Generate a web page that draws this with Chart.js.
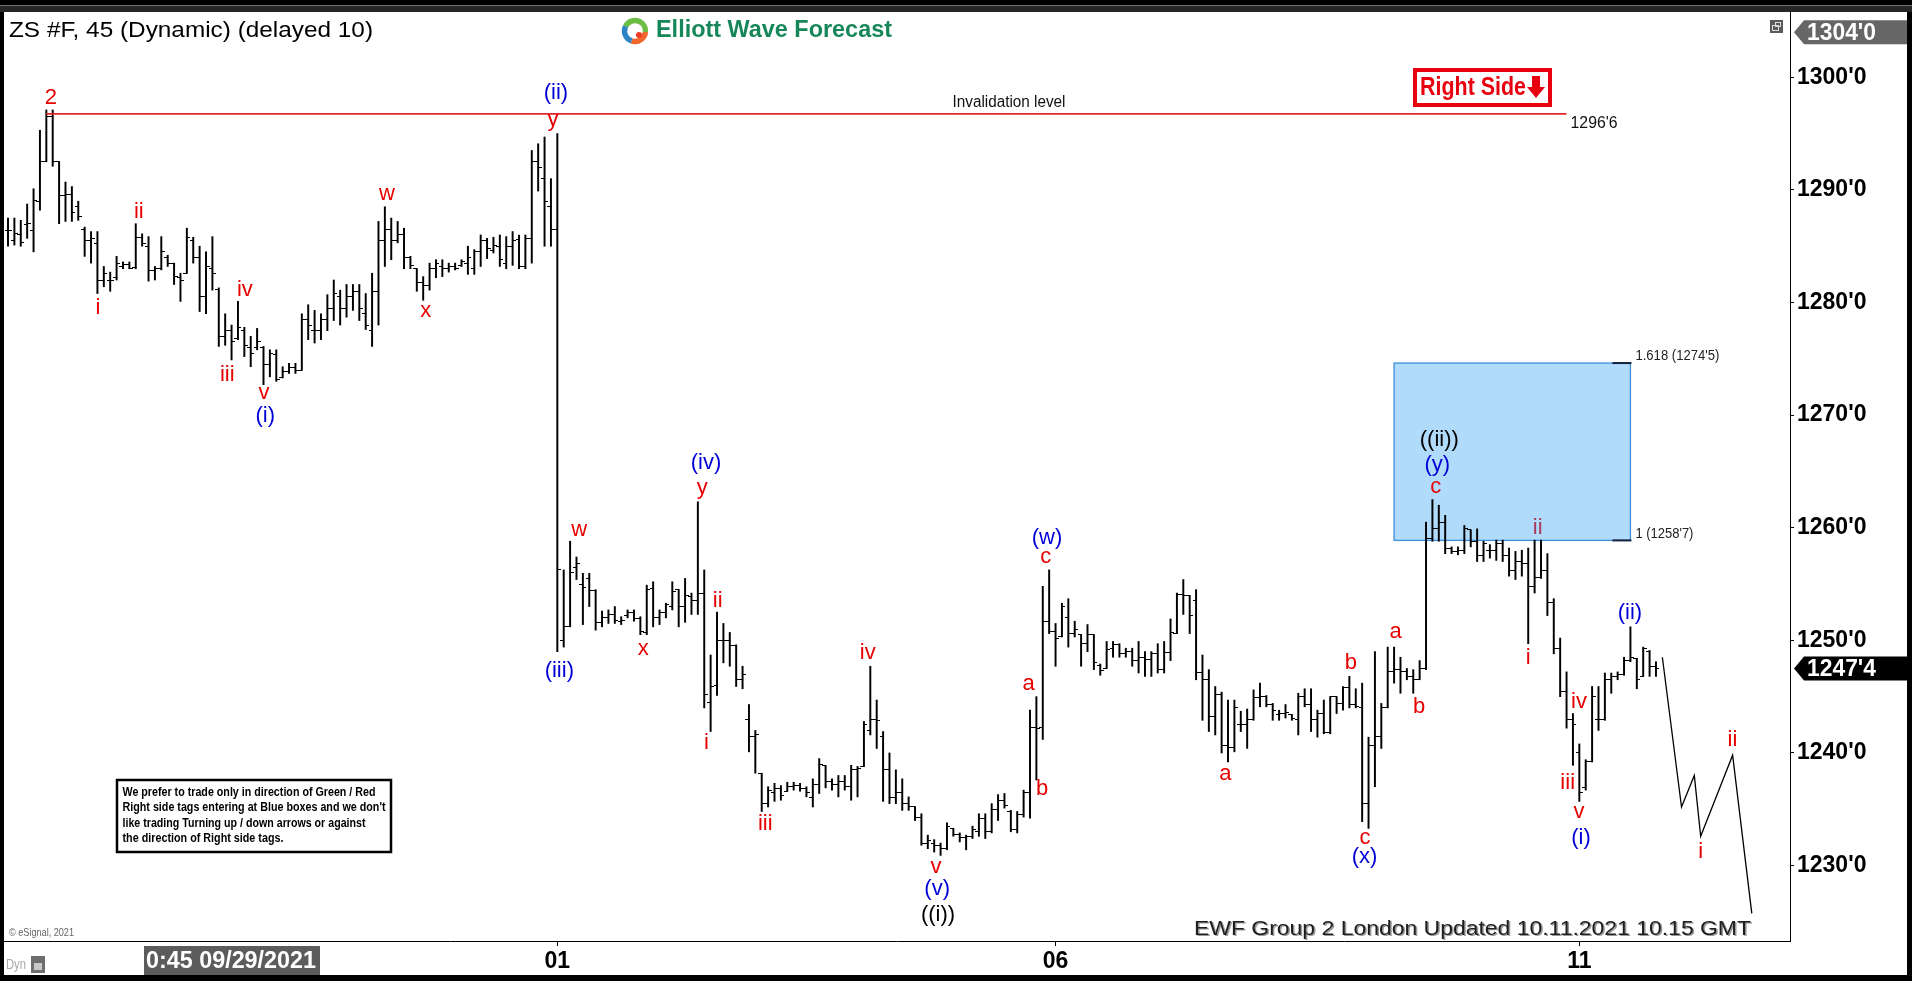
<!DOCTYPE html>
<html><head><meta charset="utf-8">
<script src="https://cdn.jsdelivr.net/npm/chart.js@4.4.1/dist/chart.umd.min.js"></script>
<style>html,body{margin:0;padding:0;background:#000;overflow:hidden}#wrap{position:relative;width:1912px;height:981px}</style>
</head><body><div id="wrap"><canvas id="c"></canvas></div>
<script>
// ---------------- DATA ----------------
const opens = [
1286.4,1285.5,1286.0,1286.9,1286.4,1289.0,1292.5,1296.5,1292.5,1289.5,
1289.6,1288.5,1286.5,1285.5,1285.2,1282.0,1282.0,1282.2,1283.2,1283.4,
1283.1,1285.8,1285.0,1282.8,1283.0,1284.0,1283.5,1282.2,1282.6,1285.5,
1284.0,1280.5,1283.0,1281.2,1277.0,1277.5,1276.8,1277.5,1276.0,1276.0,
1276.0,1274.5,1275.4,1273.3,1273.9,1274.2,1274.0,1278.5,1277.5,1277.5,
1278.5,1279.5,1280.5,1279.5,1280.5,1281.0,1279.0,1277.5,1281.0,1285.5,
1286.5,1285.5,1286.0,1284.0,1283.0,1281.8,1281.5,1283.0,1283.2,1283.0,
1283.2,1283.3,1283.5,1283.0,1284.5,1285.5,1284.6,1285.0,1283.5,1285.0,
1285.6,1283.2,1285.7,1292.5,1291.0,1288.5,1286.5,1250.0,1251.2,1256.5,
1255.0,1255.5,1254.4,1251.6,1252.0,1252.3,1251.7,1252.2,1252.5,1251.9,
1250.7,1254.6,1252.0,1252.5,1253.0,1254.5,1253.0,1253.9,1253.5,1254.2,
1244.5,1246.0,1250.0,1250.0,1249.5,1246.5,1243.0,1241.5,1238.2,1235.5,
1236.5,1236.8,1236.6,1237.0,1237.1,1236.8,1236.0,1237.2,1238.9,1237.5,
1237.2,1237.5,1237.0,1238.5,1238.8,1242.0,1243.0,1241.5,1238.5,1236.0,
1236.5,1235.5,1235.2,1234.3,1232.0,1232.0,1231.8,1231.5,1233.3,1232.8,
1232.5,1232.6,1233.0,1234.2,1233.0,1235.0,1235.8,1234.8,1233.2,1234.5,
1236.5,1242.3,1242.3,1251.7,1250.8,1250.3,1252.0,1250.6,1250.5,1249.7,
1250.5,1247.8,1247.5,1249.3,1249.6,1248.8,1249.0,1248.2,1248.5,1248.3,
1248.8,1247.4,1248.9,1250.6,1254.1,1254.0,1253.5,1247.1,1246.5,1243.2,
1245.2,1240.7,1240.5,1242.5,1242.5,1243.0,1244.9,1245.0,1244.3,1243.4,
1243.5,1243.4,1243.0,1245.0,1244.3,1243.0,1243.5,1241.8,1245.0,1244.4,
1245.8,1244.3,1244.0,1235.5,1240.7,1241.5,1244.0,1247.2,1247.4,1247.2,
1246.8,1246.5,1247.5,1259.0,1259.9,1260.5,1258.2,1257.9,1258.0,1259.8,
1258.8,1257.5,1258.0,1258.0,1258.6,1257.5,1256.2,1257.0,1256.8,1254.8,
1255.6,1256.2,1253.4,1249.3,1245.5,1243.0,1240.0,1236.9,1239.2,1243.0,
1243.0,1246.5,1246.8,1247.0,1248.2,1248.4,1246.8,1249.0,1247.7];
const highs = [
1287.5,1287.5,1287.3,1288.75,1290.1,1295.3,1297.1,1297.1,1292.5,1290.7,
1290.3,1289.0,1286.7,1286.3,1286.3,1283.2,1282.7,1284.1,1283.6,1283.6,
1287.0,1286.1,1285.85,1283.2,1285.85,1284.2,1283.5,1282.6,1286.6,1285.8,
1285.0,1284.5,1285.85,1281.3,1279.0,1278.0,1280.1,1277.8,1277.0,1277.7,
1276.1,1275.8,1275.8,1274.3,1274.6,1274.6,1279.0,1279.8,1279.3,1279.0,
1280.7,1282.0,1281.1,1281.6,1281.6,1281.6,1280.8,1282.6,1287.2,1288.5,
1287.5,1287.2,1286.6,1284.1,1283.0,1282.3,1283.5,1283.8,1283.8,1283.5,
1283.5,1283.8,1285.0,1284.7,1286.0,1285.7,1285.8,1286.0,1285.85,1286.3,
1286.0,1286.0,1293.5,1294.1,1294.7,1291.0,1295.0,1256.25,1258.8,1257.4,
1255.95,1255.95,1254.5,1252.6,1252.7,1253.0,1252.1,1252.7,1252.7,1252.1,
1254.9,1255.2,1252.7,1253.3,1255.2,1254.5,1255.5,1254.2,1262.3,1256.25,
1248.7,1252.5,1251.5,1250.7,1249.6,1247.7,1244.3,1242.0,1238.2,1237.0,
1237.3,1237.1,1237.4,1237.4,1237.3,1237.0,1237.7,1239.5,1238.9,1237.7,
1238.0,1238.0,1238.9,1238.8,1242.8,1247.7,1244.7,1241.9,1240.0,1238.5,
1237.7,1236.1,1235.2,1234.6,1232.7,1232.3,1232.0,1233.8,1233.3,1232.9,
1232.7,1233.5,1234.6,1234.6,1235.5,1236.3,1236.4,1234.9,1234.8,1236.7,
1243.8,1245.0,1254.8,1256.25,1251.5,1253.3,1253.7,1251.7,1250.5,1251.4,
1250.5,1247.9,1249.9,1249.9,1249.7,1249.3,1249.3,1249.9,1249.0,1249.0,
1249.7,1249.9,1251.9,1254.2,1255.4,1254.0,1254.5,1248.7,1247.4,1245.9,
1245.4,1244.7,1244.7,1243.7,1243.9,1245.6,1246.2,1245.1,1244.4,1243.8,
1244.3,1243.4,1245.3,1245.7,1245.7,1243.8,1244.7,1245.0,1245.0,1245.9,
1246.8,1245.7,1246.2,1241.4,1249.0,1244.4,1249.4,1249.4,1248.5,1247.5,
1247.4,1248.2,1260.5,1262.5,1262.0,1261.1,1258.3,1258.3,1260.2,1259.8,
1259.9,1258.8,1258.5,1258.9,1258.9,1258.2,1257.9,1258.0,1258.2,1258.9,
1258.9,1257.7,1253.7,1250.2,1247.2,1243.5,1240.8,1239.4,1245.9,1245.9,
1247.1,1247.1,1247.2,1248.5,1251.2,1248.4,1249.4,1249.1,1248.1];
const lows = [
1285.0,1285.1,1285.0,1285.7,1284.5,1288.2,1292.5,1292.1,1287.0,1287.2,
1287.2,1287.3,1284.1,1283.5,1280.8,1281.4,1281.0,1282.0,1283.0,1283.0,
1283.0,1285.0,1281.9,1282.0,1282.9,1283.2,1281.6,1280.1,1282.6,1283.5,
1279.2,1279.0,1281.1,1276.1,1276.2,1274.9,1276.7,1275.2,1274.3,1275.8,
1272.7,1273.4,1273.0,1273.3,1273.7,1273.7,1274.0,1276.7,1276.4,1276.7,
1277.5,1278.4,1278.0,1278.7,1279.3,1278.4,1277.6,1276.1,1278.0,1283.2,
1283.8,1285.3,1283.0,1283.0,1281.0,1280.2,1281.1,1282.2,1282.3,1282.7,
1282.9,1283.2,1282.5,1282.5,1283.2,1283.9,1284.4,1283.2,1283.0,1283.3,
1283.0,1283.0,1283.5,1289.9,1285.0,1285.0,1249.0,1249.4,1251.2,1255.4,
1251.4,1253.0,1250.9,1251.2,1251.5,1251.5,1251.4,1252.0,1251.7,1250.5,
1250.5,1251.2,1251.4,1252.0,1252.7,1251.2,1251.6,1252.3,1252.3,1244.0,
1241.9,1245.1,1248.0,1247.7,1245.9,1245.7,1240.1,1238.2,1234.8,1235.2,
1235.7,1235.8,1236.6,1236.7,1236.6,1236.1,1235.2,1236.4,1236.9,1236.7,
1236.1,1236.7,1235.8,1236.1,1238.8,1241.6,1240.4,1235.7,1235.5,1235.5,
1234.9,1234.9,1234.0,1231.8,1231.5,1231.2,1230.9,1231.4,1232.6,1232.1,
1231.4,1232.4,1232.6,1232.4,1232.9,1234.0,1235.1,1233.0,1232.9,1234.3,
1234.2,1237.6,1241.2,1250.6,1247.7,1250.3,1249.4,1250.3,1247.7,1249.0,
1247.4,1246.9,1247.5,1248.5,1248.5,1248.5,1247.7,1247.1,1246.8,1246.8,
1247.1,1247.1,1248.2,1250.6,1252.3,1250.6,1246.5,1242.9,1241.9,1241.6,
1240.0,1239.2,1240.1,1241.9,1240.4,1242.9,1244.1,1244.1,1242.9,1242.9,
1243.1,1242.9,1241.6,1244.1,1241.9,1241.4,1241.7,1241.7,1243.5,1243.8,
1244.0,1244.0,1233.9,1233.3,1237.0,1240.4,1244.0,1246.2,1245.3,1246.5,
1245.3,1246.5,1247.4,1258.8,1258.8,1257.7,1257.7,1257.6,1257.7,1258.3,
1257.0,1257.0,1257.3,1257.1,1257.0,1255.7,1255.4,1255.7,1249.7,1254.2,
1255.5,1252.2,1248.8,1245.0,1242.2,1238.9,1235.7,1236.7,1239.2,1242.0,
1242.9,1245.3,1246.5,1246.9,1248.1,1245.7,1246.8,1246.8,1246.8];
const closes = [
1286.4,1286.1,1285.3,1287.0,1289.1,1292.5,1296.5,1292.5,1289.5,1289.6,
1288.0,1287.6,1285.5,1285.7,1282.0,1282.6,1282.0,1283.5,1283.4,1283.0,
1285.8,1285.2,1282.8,1283.0,1284.5,1283.5,1282.3,1282.0,1285.8,1284.0,
1280.5,1283.2,1282.6,1277.0,1277.5,1276.5,1277.8,1276.2,1275.5,1276.5,
1274.5,1275.5,1273.2,1273.9,1274.2,1274.0,1278.5,1278.0,1277.5,1278.5,
1279.5,1280.8,1279.5,1280.5,1281.0,1279.5,1278.0,1281.0,1285.5,1286.5,
1285.5,1286.0,1284.0,1283.3,1281.8,1281.5,1283.0,1283.5,1283.0,1283.2,
1283.0,1283.6,1284.0,1284.5,1285.5,1284.8,1285.1,1283.8,1285.0,1285.5,
1283.2,1285.7,1292.5,1292.0,1289.0,1286.5,1256.25,1251.2,1256.0,1256.8,
1254.7,1254.4,1251.6,1252.0,1252.3,1251.8,1251.8,1252.5,1251.9,1250.8,
1254.5,1252.0,1252.5,1253.2,1254.3,1253.0,1254.0,1253.5,1254.2,1245.2,
1245.9,1250.0,1250.0,1249.5,1246.5,1247.0,1241.5,1241.6,1235.5,1236.7,
1236.8,1236.2,1237.0,1237.1,1236.8,1236.5,1237.2,1239.0,1237.5,1237.2,
1237.5,1237.0,1238.5,1238.6,1242.5,1243.0,1242.9,1238.5,1236.0,1236.5,
1235.5,1235.2,1234.3,1232.0,1232.2,1231.8,1231.5,1233.5,1232.8,1232.5,
1232.6,1233.2,1234.2,1233.0,1235.0,1235.8,1235.3,1233.2,1234.5,1236.5,
1242.3,1242.2,1251.7,1250.8,1250.2,1253.0,1250.6,1251.0,1249.7,1250.5,
1248.0,1247.3,1249.2,1249.6,1248.8,1249.0,1248.2,1248.5,1248.3,1248.8,
1247.4,1248.9,1250.7,1254.1,1254.0,1252.2,1247.1,1246.5,1243.2,1245.2,
1240.7,1240.5,1244.0,1242.5,1243.0,1244.9,1245.0,1244.3,1243.8,1243.5,
1243.6,1243.1,1245.0,1244.3,1243.0,1243.5,1241.8,1245.0,1244.4,1245.8,
1244.3,1244.1,1235.5,1240.7,1241.5,1244.0,1247.2,1247.4,1247.2,1246.8,
1246.5,1247.5,1259.0,1259.9,1260.5,1258.2,1257.9,1258.0,1259.9,1258.8,
1257.5,1258.6,1258.0,1258.6,1257.5,1256.2,1257.0,1256.8,1254.8,1255.6,
1256.2,1253.4,1249.3,1245.5,1243.0,1242.5,1236.5,1239.2,1245.0,1243.0,
1246.5,1246.8,1247.0,1248.2,1248.5,1246.5,1249.3,1247.7,1247.5];

// x-axis day labels (bar index where each day label sits)
const xTickIndex = [86, 164, 246];
const xTickText  = ['01', '06', '11'];
// price axis ticks
const yTickValues = [1230, 1240, 1250, 1260, 1270, 1280, 1290, 1300];
const scaleTopPrice = 1304;

// invalidation level
const invalidationPrice = 1296.75;
const invalidationFromBar = 6;
const invalidationToBar = 244;

// blue box (Fibonacci extension area)
const fibFromBar = 217, fibToBar = 254;
const fibLow = 1258.875, fibHigh = 1274.625;
const fibLowRatio = '1', fibHighRatio = '1.618';

// projected path
const projBars   = [259, 262, 264, 265, 270, 273];
const projPrices = [1248.5, 1235.2, 1238.0, 1232.6, 1239.8, 1225.75];

// Elliott wave labels: text, anchor bar, anchor price, degree
const waveText = ['2','i','ii','iii','iv','v','(i)','w','x','(ii)','y','(iii)','w','x','(iv)','y','ii','i','iii','iv','v','(v)','((i))','a','b','c','(w)','a','b','c','(x)','a','b','c','(y)','((ii))','ii','i','iv','iii','v','(i)','(ii)','i','ii'];
const waveBar = [6.73,14.09,20.48,34.33,37.09,40.08,40.28,59.33,65.39,85.79,85.32,86.31,89.44,99.46,109.28,108.70,111.11,109.35,118.56,134.59,145.28,145.46,145.60,159.78,161.88,162.46,162.66,190.58,210.25,212.45,212.37,217.25,220.90,223.51,223.76,224.08,239.48,238.01,245.95,244.18,245.93,246.26,253.93,264.99,269.97];
const wavePrice = [1298.14,1279.51,1288.07,1273.56,1281.11,1271.94,1269.92,1289.61,1279.27,1298.58,1296.21,1247.30,1259.80,1249.20,1265.72,1263.50,1253.52,1240.85,1233.66,1248.90,1229.84,1227.89,1225.61,1246.12,1236.77,1257.37,1259.06,1238.13,1247.96,1232.42,1230.73,1250.77,1244.05,1263.59,1265.57,1267.79,1259.95,1248.40,1244.55,1237.30,1234.78,1232.42,1252.40,1231.23,1241.15];
const waveDegree = ['sm','sm','sm','sm','sm','sm','mt','sm','sm','mt','sm','mt','sm','sm','mt','sm','sm','sm','sm','sm','sm','mt','mn','sm','sm','sm','mt','sm','sm','sm','mt','sm','sm','sm','mt','mn','sm2','sm','sm','sm','sm','mt','mt','sm','sm'];

// ---------------- STYLE / LAYOUT ----------------
const FONT = '"Liberation Sans", Arial, sans-serif';
const degreeColor = {sm:'#e60000', sm2:'#a8395a', mt:'#0000d6', mn:'#000000'};
const X0PX = 8, DXPX = 6.3875, AREA_L = 4, AREA_R = 1790;
const xMin = (AREA_L - X0PX) / DXPX, xMax = (AREA_R - X0PX) / DXPX;
const yMin = 1223.3, yMax = 1305.8;

function fmt(v){ let n = Math.floor(v + 1e-9); let e = Math.round((v - n) * 8); if (e === 8) { n += 1; e = 0; } return n + "'" + e; }

function drawText(ctx, s, x, y, o){
  ctx.save(); ctx.font = o.font; ctx.fillStyle = o.color || '#000'; ctx.textBaseline = o.baseline || 'middle'; ctx.textAlign = 'left';
  const m = ctx.measureText(s).width; const sx = o.width ? o.width / m : 1; const w = m * sx;
  const x0 = o.align === 'center' ? x - w / 2 : (o.align === 'right' ? x - w : x);
  ctx.translate(x0, y); ctx.scale(sx, 1); ctx.fillText(s, 0, 0); ctx.restore();
}
function tickImg(side){
  const c = document.createElement('canvas'); c.width = 7; c.height = 1;
  const g = c.getContext('2d'); g.fillStyle = '#000';
  if (side < 0) g.fillRect(0, 0, 4, 1); else g.fillRect(3, 0, 4, 1);
  return c;
}
function priceTag(ctx, y, s, bg){
  ctx.save(); ctx.fillStyle = bg; ctx.beginPath();
  ctx.moveTo(1794, y); ctx.lineTo(1804, y - 12); ctx.lineTo(1907, y - 12); ctx.lineTo(1907, y + 12); ctx.lineTo(1804, y + 12);
  ctx.closePath(); ctx.fill(); ctx.restore();
  drawText(ctx, s, 1807, y + 1, {font: 'bold 23px ' + FONT, color: '#fff', width: 69});
}

const bgPlugin = {
  id: 'bg',
  beforeDraw(chart){
    const ctx = chart.ctx; ctx.save();
    ctx.fillStyle = '#000'; ctx.fillRect(0, 0, 1912, 981);
    ctx.fillStyle = '#262626'; ctx.fillRect(0, 6, 1912, 6);
    ctx.fillStyle = '#707070'; ctx.fillRect(0, 5, 1912, 1);
    ctx.fillStyle = '#fff'; ctx.fillRect(4, 12, 1903, 963);
    ctx.restore();
  },
  beforeDatasetsDraw(chart){
    const ctx = chart.ctx, xs = chart.scales.x, ys = chart.scales.y;
    const x1 = xs.getPixelForValue(fibFromBar), x2 = xs.getPixelForValue(fibToBar);
    const y1 = ys.getPixelForValue(fibHigh), y2 = ys.getPixelForValue(fibLow);
    ctx.save();
    ctx.fillStyle = '#b1dbfb'; ctx.fillRect(x1, y1, x2 - x1, y2 - y1);
    ctx.strokeStyle = '#3c8fdc'; ctx.lineWidth = 1.3; ctx.strokeRect(x1, y1, x2 - x1, y2 - y1);
    ctx.fillStyle = '#14213d';
    ctx.fillRect(x2 - 18, y1 - 1, 19, 2); ctx.fillRect(x2 - 18, y2 - 1, 19, 2);
    ctx.restore();
    drawText(ctx, fibHighRatio + ' (' + fmt(fibHigh) + ')', x2 + 5, y1 - 7, {font: '14px ' + FONT, color: '#222', width: 84});
    drawText(ctx, fibLowRatio + ' (' + fmt(fibLow) + ')', x2 + 5, y2 - 6, {font: '14px ' + FONT, color: '#222', width: 58});
  },
  afterDatasetsDraw(chart){
    const ctx = chart.ctx, xs = chart.scales.x, ys = chart.scales.y;
    ctx.save();
    ctx.font = '22px ' + FONT; ctx.textAlign = 'center'; ctx.textBaseline = 'middle';
    for (let k = 0; k < waveText.length; k++) {
      ctx.fillStyle = degreeColor[waveDegree[k]];
      ctx.fillText(waveText[k], xs.getPixelForValue(waveBar[k]), ys.getPixelForValue(wavePrice[k]));
    }
    ctx.restore();
    // invalidation texts
    const yi = ys.getPixelForValue(invalidationPrice);
    drawText(ctx, 'Invalidation level', 1009, yi - 11, {font: '16px ' + FONT, color: '#111', width: 113, align: 'center'});
    drawText(ctx, fmt(invalidationPrice), xs.getPixelForValue(invalidationToBar) + 4, yi + 10, {font: '16px ' + FONT, color: '#111', width: 47});
  },
  afterDraw(chart){
    const ctx = chart.ctx, ys = chart.scales.y;
    // title
    drawText(ctx, 'ZS #F, 45 (Dynamic) (delayed 10)', 9, 31, {font: '22px ' + FONT, color: '#000', width: 364});
    // logo
    ctx.save(); ctx.lineWidth = 5.5; const cx = 635, cy = 31, r = 10.5;
    ctx.strokeStyle = '#6cbd45'; ctx.beginPath(); ctx.arc(cx, cy, r, -2.7, 0.1); ctx.stroke();
    ctx.strokeStyle = '#f1662a'; ctx.beginPath(); ctx.arc(cx, cy, r, 0.1, 1.9); ctx.stroke();
    ctx.strokeStyle = '#2d83c4'; ctx.beginPath(); ctx.arc(cx, cy, r, 1.9, 3.6); ctx.stroke();
    ctx.fillStyle = '#ee3b24'; ctx.beginPath(); ctx.arc(cx + 4, cy + 4, 3, 0, 6.3); ctx.fill();
    ctx.restore();
    drawText(ctx, 'Elliott Wave Forecast', 656, 31, {font: 'bold 23px ' + FONT, color: '#17875a', width: 236});
    // right side tag
    ctx.save(); ctx.strokeStyle = '#e8000f'; ctx.lineWidth = 4; ctx.fillStyle = '#fff';
    ctx.fillRect(1415, 70, 135, 35); ctx.strokeRect(1415, 70, 135, 35);
    ctx.fillStyle = '#e8000f'; ctx.fillRect(1532, 76, 8, 12);
    ctx.beginPath(); ctx.moveTo(1527, 87); ctx.lineTo(1545, 87); ctx.lineTo(1536, 98); ctx.closePath(); ctx.fill();
    ctx.restore();
    drawText(ctx, 'Right Side', 1420, 88, {font: 'bold 26px ' + FONT, color: '#e8000f', width: 106});
    // small window icon
    ctx.save(); ctx.fillStyle = '#5a5a5a'; ctx.fillRect(1770, 20, 13, 13);
    ctx.strokeStyle = '#ddd'; ctx.lineWidth = 1; ctx.strokeRect(1772.5, 25.5, 6, 5); ctx.strokeRect(1775.5, 22.5, 5, 4); ctx.restore();
    // price tags
    priceTag(ctx, ys.getPixelForValue(scaleTopPrice), fmt(scaleTopPrice), '#666');
    const last = closes[closes.length - 1];
    priceTag(ctx, ys.getPixelForValue(last), fmt(last), '#000');
    // info box
    ctx.save(); ctx.fillStyle = '#fff'; ctx.fillRect(117, 780, 274, 72);
    ctx.strokeStyle = '#000'; ctx.lineWidth = 2.5; ctx.strokeRect(117, 780, 274, 72); ctx.restore();
    const info = ['We prefer to trade only in direction of Green / Red', "Right side tags entering at Blue boxes and we don't", 'like trading Turning up / down arrows or against', 'the direction of Right side tags.'];
    const infoW = [253, 263, 243, 161], infoY = [793, 808, 823.5, 838.5];
    for (let k = 0; k < 4; k++) drawText(ctx, info[k], 122.5, infoY[k], {font: 'bold 12.5px ' + FONT, color: '#000', width: infoW[k]});
    // footer
    const foot = 'EWF Group 2 London Updated 10.11.2021 10.15 GMT';
    drawText(ctx, foot, 1195.5, 930.5, {font: '21px ' + FONT, color: '#9a9a9a', width: 557});
    drawText(ctx, foot, 1194, 929, {font: '21px ' + FONT, color: '#1e1e1e', width: 557});
    drawText(ctx, '\u00a9 eSignal, 2021', 9, 933, {font: '11px ' + FONT, color: '#666', width: 65});
    // date box
    ctx.save(); ctx.fillStyle = '#5c5c5c'; ctx.fillRect(144, 946, 176, 29); ctx.restore();
    drawText(ctx, '0:45 09/29/2021', 146, 961.5, {font: 'bold 23px ' + FONT, color: '#fff', width: 170});
    // Dyn
    drawText(ctx, 'Dyn', 6, 965, {font: '15px ' + FONT, color: '#a8a8a8', width: 20});
    ctx.save(); ctx.fillStyle = '#6e6e6e'; ctx.fillRect(31, 956, 14, 17); ctx.fillStyle = '#c8c8c8'; ctx.fillRect(34, 963, 8, 7); ctx.restore();
  }
};

const idx = opens.map((_, i) => i);
const chart = new Chart(document.getElementById('c'), {
  type: 'bar',
  data: {
    datasets: [
      { type: 'line', label: 'projection', data: projBars.map((b, k) => ({x: b, y: projPrices[k]})), borderColor: '#000', borderWidth: 1.3, pointRadius: 0, tension: 0, fill: false },
      { type: 'line', label: 'invalidation', data: [{x: invalidationFromBar, y: invalidationPrice}, {x: invalidationToBar, y: invalidationPrice}], borderColor: '#e3262b', borderWidth: 1.6, pointRadius: 0, fill: false },
      { type: 'line', label: 'open', data: idx.map(i => ({x: i, y: opens[i]})), showLine: false, pointStyle: tickImg(-1), pointRadius: 3, pointHoverRadius: 3 },
      { type: 'line', label: 'close', data: idx.map(i => ({x: i, y: closes[i]})), showLine: false, pointStyle: tickImg(1), pointRadius: 3, pointHoverRadius: 3 },
      { type: 'bar', label: 'range', data: idx.map(i => ({x: i, y: [lows[i], highs[i]]})), backgroundColor: '#000', borderWidth: 0, barThickness: 1.3 }
    ]
  },
  options: {
    responsive: true, maintainAspectRatio: false, animation: false, devicePixelRatio: 1, events: [],
    layout: { padding: { left: 4, top: 12, right: 5, bottom: 6 } },
    plugins: { legend: { display: false }, tooltip: { enabled: false } },
    scales: {
      x: {
        type: 'linear', min: xMin, max: xMax, offset: false,
        grid: { offset: false, drawOnChartArea: false, drawTicks: true, tickLength: 5, color: '#000' },
        border: { display: true, color: '#000', width: 1 },
        ticks: { autoSkip: false, maxRotation: 0, minRotation: 0, padding: 2, color: '#000', font: { family: FONT, size: 23, weight: 'bold' },
          callback: (v) => { const k = xTickIndex.indexOf(v); return k >= 0 ? xTickText[k] : ''; } },
        afterBuildTicks: (s) => { s.ticks = xTickIndex.map(v => ({ value: v })); },
        afterFit: (s) => { s.height = 34; s.paddingLeft = 0; s.paddingRight = 0; }
      },
      y: {
        type: 'linear', position: 'right', min: yMin, max: yMax,
        grid: { offset: false, drawOnChartArea: false, drawTicks: true, tickLength: 4, color: '#000' },
        border: { display: true, color: '#000', width: 1 },
        ticks: { padding: 3, color: '#000', font: { family: FONT, size: 23, weight: 'bold' }, callback: (v) => fmt(v) },
        afterBuildTicks: (s) => { s.ticks = yTickValues.map(v => ({ value: v })); },
        afterFit: (s) => { s.width = 117; s.paddingTop = 0; s.paddingBottom = 0; }
      }
    }
  },
  plugins: [bgPlugin]
});
</script></body></html>
